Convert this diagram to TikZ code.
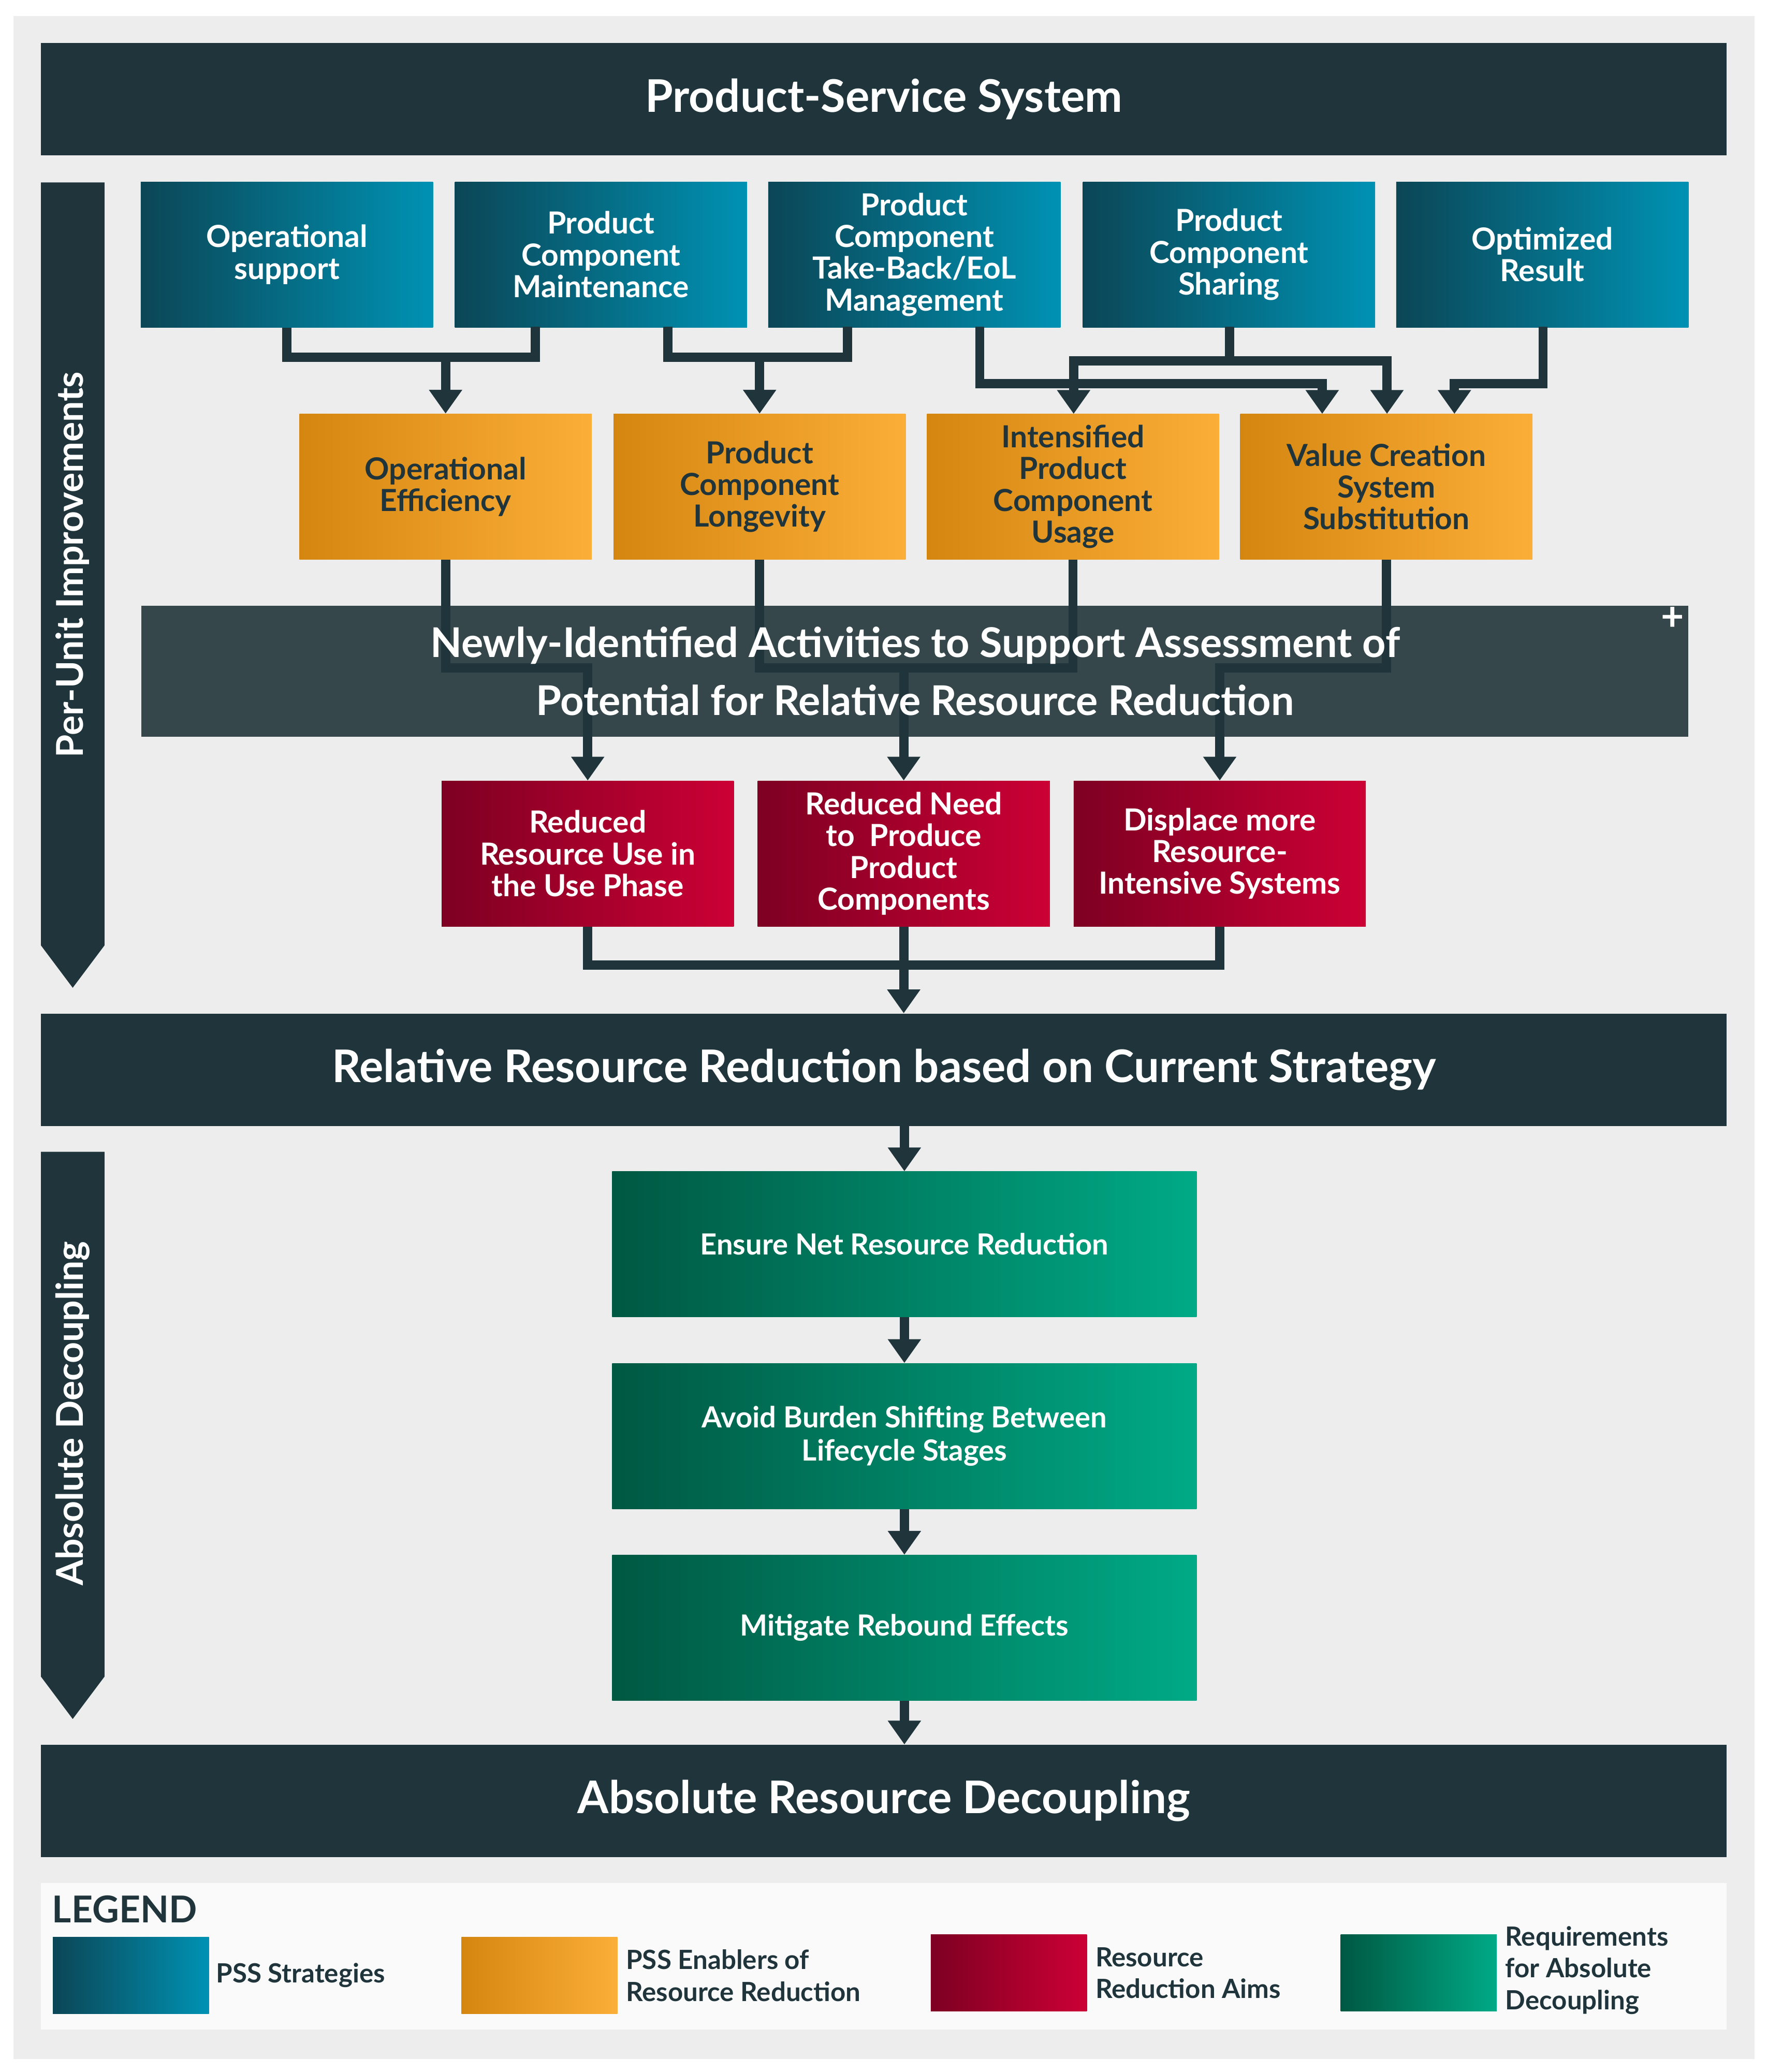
\documentclass[tikz,border=0pt]{standalone}
\usepackage{fontspec}
\setmainfont{Lato}
\usetikzlibrary{arrows.meta}
\definecolor{dark}{HTML}{1F353B}
\definecolor{band}{HTML}{36474C}
\definecolor{bg}{HTML}{EDEDED}
\definecolor{tealA}{HTML}{0B4656}
\definecolor{tealB}{HTML}{0092B3}
\definecolor{orA}{HTML}{D48610}
\definecolor{orB}{HTML}{FBAE38}
\definecolor{rdA}{HTML}{7D0022}
\definecolor{rdB}{HTML}{CC0035}
\definecolor{grA}{HTML}{005842}
\definecolor{grB}{HTML}{00AA86}
\tikzset{
 x=1pt,y=-1pt,
 box/.style={minimum width=221pt,minimum height=110pt,align=center,inner sep=2pt,font=\fontsize{23}{24}\selectfont\bfseries},
 strat/.style={box,shading=axis,shading angle=90,left color=tealA,right color=tealB,text=white},
 enab/.style={box,shading=axis,shading angle=90,left color=orA,right color=orB,text=dark},
 aim/.style={box,shading=axis,shading angle=90,left color=rdA,right color=rdB,text=white},
 req/.style={box,minimum width=442pt,shading=axis,shading angle=90,left color=grA,right color=grB,text=white,font=\fontsize{22}{25}\selectfont\bfseries},
 bar/.style={fill=dark,minimum width=1275pt,minimum height=85pt,text=white,font=\fontsize{34}{36}\selectfont\bfseries},
 wire/.style={draw=dark,line width=7pt},
 arr/.style={wire,-{Triangle[width=24pt,length=18pt]}},
 sw/.style={minimum width=118pt,minimum height=58pt,shading=axis,shading angle=90},
 lt/.style={anchor=west,align=left,text=dark,font=\fontsize{20}{24}\selectfont\bfseries},
}
\begin{document}
\begin{tikzpicture}
\useasboundingbox (0,0) rectangle (1337,1567);
\fill[white] (0,0) rectangle (1337,1567);
\fill[bg] (10,12) rectangle (1327,1557);
% side arrows
\fill[dark] (31,138) rectangle (79,715) -- (79,715) -- (55,747) -- (31,715) -- cycle;
\node[rotate=90,text=white,font=\fontsize{28}{30}\selectfont\bfseries] (pu) at (55,427) {Per-Unit Improvements};
\fill[dark] (31,871) rectangle (79,1268) -- (79,1268) -- (55,1300) -- (31,1268) -- cycle;
\node[rotate=90,text=white,font=\fontsize{28}{30}\selectfont\bfseries] (ad) at (55,1069) {Absolute Decoupling};
% bars
\node[bar] (pss) at (668.5,75) {Product-Service System};
\node[bar] (rel) at (668.5,809) {Relative Resource Reduction based on Current Strategy};
\node[bar] (abs) at (668.5,1362) {Absolute Resource Decoupling};
% band
\node[fill=band,minimum width=1170pt,minimum height=99pt] (nb) at (692,507.5) {};
% strategies
\node[strat] (s1) at (217,192.5) {Operational\\support};
\node[strat] (s2) at (454.5,192.5) {Product\\Component\\Maintenance};
\node[strat] (s3) at (691.5,192.5) {Product\\Component\\Take-Back/EoL\\Management};
\node[strat] (s4) at (929.5,192.5) {Product\\Component\\Sharing};
\node[strat] (s5) at (1166.5,192.5) {Optimized\\Result};
% enablers
\node[enab] (e1) at (337,368) {Operational\\Efficiency};
\node[enab] (e2) at (574.5,368) {Product\\Component\\Longevity};
\node[enab] (e3) at (811.5,368) {Intensified\\Product\\Component\\Usage};
\node[enab] (e4) at (1048.5,368) {Value Creation\\System\\Substitution};
% aims
\node[aim] (a1) at (444.5,645.5) {Reduced\\Resource Use in\\the Use Phase};
\node[aim] (a2) at (683.5,645.5) {Reduced Need\\to\ \ Produce\\Product\\Components};
\node[aim] (a3) at (922.5,645.5) {Displace more\\Resource-\\Intensive Systems};
% requirements
\node[req] (r1) at (684,941) {Ensure Net Resource Reduction};
\node[req] (r2) at (684,1086) {Avoid Burden Shifting Between\\Lifecycle Stages};
\node[req] (r3) at (684,1231) {Mitigate Rebound Effects};
% wires strategies -> enablers
\draw[wire,line join=miter] (s1.south) -- (217,270) -- (405,270) -- (405,247);
\draw[arr] (337,270) -- (e1.north);
\draw[wire] (505,247) -- (505,270) -- (641,270) -- (641,247);
\draw[arr] (574.5,270) -- (e2.north);
\draw[arr] (741,247) -- (741,290) -- (1000,290) -- (1000,313);
\draw[wire] (930,247) -- (930,273);
\draw[arr] (930,273) -- (812,273) -- (812,313);
\draw[arr] (930,273) -- (1049,273) -- (1049,313);
\draw[arr] (1167,247) -- (1167,290) -- (1100,290) -- (1100,313);
% enablers -> aims
\draw[arr] (e1.south) -- (337,505) -- (444.5,505) -- (a1.north);
\draw[wire] (e2.south) -- (574.5,505) -- (811.5,505) -- (e3.south);
\draw[arr] (683.5,505) -- (a2.north);
\draw[arr] (e4.south) -- (1048.5,505) -- (922.5,505) -- (a3.north);
\node[text=white,align=center,font=\fontsize{31}{44}\selectfont\bfseries] (nbt) at (692,507.5) {Newly-Identified Activities to Support Assessment of\\Potential for Relative Resource Reduction};
\node[text=white,font=\fontsize{30}{30}\selectfont\bfseries] (plus) at (1265,468) {+};
% aims -> relative
\draw[wire] (a1.south) -- (444.5,730) -- (922.5,730) -- (a3.south);
\draw[arr] (a2.south) -- (rel.north -| a2.south);
\draw[arr] (rel.south -| r1.north) -- (r1.north);
\draw[arr] (r1.south) -- (r2.north);
\draw[arr] (r2.south) -- (r3.north);
\draw[arr] (r3.south) -- (abs.north -| r3.south);
% legend
\fill[white!96!gray] (31,1424) rectangle (1306,1535);
\node[anchor=west,text=dark,font=\fontsize{28}{30}\selectfont\bfseries] (lg) at (36,1444) {LEGEND};
\node[sw,left color=tealA,right color=tealB] (l1) at (99,1494) {};
\node[lt] (l1t) at (160,1494) {PSS Strategies};
\node[sw,left color=orA,right color=orB] (l2) at (408,1494) {};
\node[lt] (l2t) at (470,1494) {PSS Enablers of\\Resource Reduction};
\node[sw,left color=rdA,right color=rdB] (l3) at (763,1492) {};
\node[lt] (l3t) at (825,1492) {Resource\\Reduction Aims};
\node[sw,left color=grA,right color=grB] (l4) at (1073,1492) {};
\node[lt] (l4t) at (1135,1490) {Requirements\\for Absolute\\Decoupling};
\end{tikzpicture}
\end{document}
